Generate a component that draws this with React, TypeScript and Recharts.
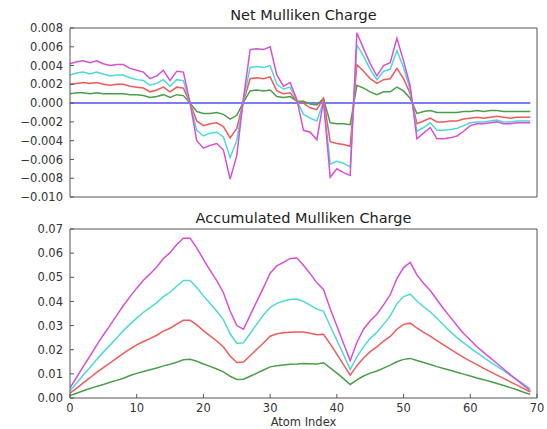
import { LineChart, Line, XAxis, YAxis, ReferenceLine } from 'recharts'

// atom index 0..69
const atoms: number[] = Array.from({ length: 70 }, (_, i) => i)

// net charge per atom, four series
const netM = [
  0.0042, 0.0044, 0.0045, 0.0043, 0.0045, 0.0042, 0.004, 0.0041, 0.0041, 0.0037,
  0.0035, 0.0033, 0.0026, 0.0029, 0.0035, 0.0024, 0.0034, 0.0033, 0.0, -0.004,
  -0.0048, -0.0045, -0.0043, -0.005, -0.0081, -0.0056, 0.0005, 0.0057, 0.0058, 0.0057,
  0.006, 0.003, 0.0018, 0.0022, 0.0004, -0.0029, -0.0031, -0.0039, 0.0002, -0.0079,
  -0.007, -0.0074, -0.0077, 0.0075, 0.0058, 0.0042, 0.0029, 0.004, 0.0043, 0.0069,
  0.0045, 0.0018, -0.0038, -0.0032, -0.0026, -0.0038, -0.0038, -0.0037, -0.0035, -0.003,
  -0.0024, -0.0022, -0.0022, -0.0021, -0.002, -0.0022, -0.0022, -0.0021, -0.0021, -0.0021,
]
const netC = [
  0.003, 0.0032, 0.0033, 0.0031, 0.0033, 0.0031, 0.0029, 0.003, 0.003, 0.0027,
  0.0025, 0.0024, 0.0019, 0.0021, 0.0025, 0.0018, 0.0025, 0.0024, 0.0, -0.0029,
  -0.0035, -0.0032, -0.0031, -0.0036, -0.0058, -0.004, 0.0003, 0.0038, 0.0039, 0.0038,
  0.004, 0.002, 0.0015, 0.0017, 0.0003, -0.0012, -0.0016, -0.0019, 0.0002, -0.0065,
  -0.0062, -0.0064, -0.0068, 0.0062, 0.005, 0.0036, 0.0025, 0.0034, 0.0036, 0.0056,
  0.0038, 0.0014, -0.003, -0.0026, -0.0021, -0.0029, -0.0029, -0.0028, -0.0027, -0.0024,
  -0.0021, -0.002, -0.002, -0.0019, -0.0018, -0.002, -0.002, -0.0019, -0.0019, -0.0019,
]
const netR = [
  0.002, 0.0021, 0.0022, 0.0021, 0.0022, 0.002, 0.0019, 0.002, 0.002, 0.0018,
  0.0017, 0.0016, 0.0012, 0.0014, 0.0017, 0.0012, 0.0017, 0.0016, 0.0, -0.0019,
  -0.0024, -0.0022, -0.0021, -0.0025, -0.0037, -0.0027, 0.0002, 0.0026, 0.0027, 0.0026,
  0.0028, 0.0013, 0.001, 0.0011, 0.0002, 0.0, -0.0005, -0.0007, 0.0005, -0.0041,
  -0.0043, -0.0044, -0.0046, 0.0041, 0.0034, 0.0026, 0.0021, 0.0025, 0.0026, 0.0037,
  0.0026, 0.001, -0.0022, -0.0019, -0.0016, -0.002, -0.002, -0.0019, -0.0019, -0.0017,
  -0.0016, -0.0015, -0.0016, -0.0015, -0.0014, -0.0015, -0.0016, -0.0015, -0.0015, -0.0015,
]
const netG = [
  0.001, 0.0011, 0.0011, 0.001, 0.0011, 0.001, 0.001, 0.001, 0.001, 0.0009,
  0.0009, 0.0008, 0.0006, 0.0007, 0.0009, 0.0006, 0.0009, 0.0008, 0.0, -0.0009,
  -0.0011, -0.0011, -0.001, -0.0012, -0.0017, -0.0013, 0.0001, 0.0013, 0.0014, 0.0013,
  0.0014, 0.0007, 0.0006, 0.0007, 0.0002, 0.0002, -0.0001, -0.0002, 0.0005, -0.0021,
  -0.0022, -0.0022, -0.0023, 0.0019, 0.0016, 0.0012, 0.0009, 0.0012, 0.0012, 0.0017,
  0.0013, 0.0005, -0.0011, -0.0009, -0.0008, -0.001, -0.001, -0.001, -0.001, -0.0009,
  -0.0009, -0.0008, -0.0009, -0.0008, -0.0008, -0.0009, -0.0009, -0.0009, -0.0009, -0.0009,
]

// accumulated charge per atom
const accM = [
  0.0042, 0.0086, 0.0131, 0.0174, 0.0219, 0.0261, 0.0301, 0.0342, 0.0383, 0.042,
  0.0455, 0.0488, 0.0514, 0.0543, 0.0578, 0.0602, 0.0636, 0.0662, 0.0662, 0.0622,
  0.0574, 0.0529, 0.0486, 0.0436, 0.036, 0.03, 0.0285, 0.0342, 0.04, 0.0457,
  0.0517, 0.0547, 0.0562, 0.0578, 0.058, 0.055, 0.0515, 0.0477, 0.045, 0.037,
  0.0298, 0.0226, 0.0155, 0.023, 0.0285, 0.032, 0.0347, 0.0386, 0.0428, 0.0495,
  0.054, 0.0562, 0.051, 0.0475, 0.0445, 0.0407, 0.037, 0.0335, 0.03, 0.0267,
  0.024, 0.0212, 0.0189, 0.0166, 0.0143, 0.012, 0.0097, 0.0074, 0.0052, 0.003,
]
const accC = [
  0.003, 0.0062, 0.0095, 0.0126, 0.0159, 0.019, 0.0219, 0.0249, 0.0279, 0.0306,
  0.0331, 0.0355, 0.0374, 0.0395, 0.042, 0.0438, 0.0463, 0.0487, 0.0487, 0.0458,
  0.0423, 0.0391, 0.036, 0.0324, 0.0266, 0.0226, 0.0229, 0.0267, 0.0306, 0.0344,
  0.0375, 0.0392, 0.0402, 0.0408, 0.041, 0.04, 0.0385, 0.0368, 0.036, 0.0298,
  0.024, 0.018, 0.0118, 0.017, 0.0212, 0.0247, 0.0272, 0.0305, 0.034, 0.039,
  0.042, 0.043, 0.0402, 0.0378, 0.0357, 0.033, 0.0302, 0.0275, 0.025, 0.0228,
  0.0208, 0.0188, 0.0168, 0.0149, 0.0131, 0.0113, 0.0094, 0.0076, 0.0057, 0.0038,
]
const accR = [
  0.002, 0.0041, 0.0063, 0.0084, 0.0106, 0.0126, 0.0145, 0.0165, 0.0185, 0.0203,
  0.022, 0.0234, 0.0246, 0.026, 0.0277, 0.0289, 0.0306, 0.0322, 0.0322, 0.0303,
  0.0279, 0.0257, 0.0236, 0.0211, 0.0174, 0.0147, 0.0149, 0.0175, 0.0202, 0.0228,
  0.0256, 0.0266, 0.027, 0.0272, 0.0273, 0.0273, 0.0268, 0.0262, 0.0264, 0.0224,
  0.0182, 0.0138, 0.0095, 0.0134, 0.0166, 0.0192, 0.0212, 0.0236, 0.0255, 0.0285,
  0.0305, 0.031, 0.029, 0.0272, 0.0256, 0.0238, 0.022, 0.0202, 0.0185, 0.0168,
  0.0153, 0.0138, 0.0123, 0.0109, 0.0095, 0.0081, 0.0067, 0.0053, 0.0039, 0.0025,
]
const accG = [
  0.001, 0.002, 0.003, 0.0039, 0.0048, 0.0056, 0.0065, 0.0073, 0.0082, 0.0093,
  0.0102, 0.011, 0.0117, 0.0124, 0.0133, 0.014, 0.0148, 0.0158, 0.016, 0.0152,
  0.0141, 0.0131, 0.012, 0.0108, 0.009, 0.0077, 0.0078, 0.009, 0.0103, 0.0116,
  0.0129, 0.0134, 0.0137, 0.014, 0.0141, 0.0143, 0.0142, 0.0141, 0.0146, 0.0125,
  0.0103, 0.008, 0.0056, 0.0075, 0.0091, 0.0103, 0.0112, 0.0124, 0.0136, 0.015,
  0.016, 0.0164, 0.0155, 0.0147, 0.0139, 0.013, 0.0122, 0.0115, 0.0107, 0.0099,
  0.0091, 0.0083, 0.0076, 0.0068, 0.006, 0.0052, 0.0043, 0.0034, 0.0024, 0.0015,
]

const xTicks = [0, 10, 20, 30, 40, 50, 60, 70]
const netTicks = [-0.01, -0.008, -0.006, -0.004, -0.002, 0, 0.002, 0.004, 0.006, 0.008]
const accTicks = [0, 0.01, 0.02, 0.03, 0.04, 0.05, 0.06, 0.07]

const netData = atoms.map((idx, i) => ({ idx, g: netG[i], r: netR[i], c: netC[i], m: netM[i] }))
const accData = atoms.map((idx, i) => ({ idx, g: accG[i], r: accR[i], c: accC[i], m: accM[i] }))

const GREEN = '#4a9e4a'
const RED = '#f05a5a'
const CYAN = '#4fd8d8'
const MAGENTA = '#d84fd8'
const BLUE = '#5050f0'
const FRAME = '#555'
const FONT = '"DejaVu Sans", sans-serif'
const tickStyle = { fontSize: 11.5, fill: '#333', fontFamily: FONT }

const fmtNet = (v: number) => {
  const s = Math.abs(v).toFixed(3)
  return v < -1e-9 ? '\u2212' + s : s
}
const fmtAcc = (v: number) => v.toFixed(2)

function Panel({ data, yTicks, yDomain, fmt, showX, height, zero }: any) {
  return (
    <LineChart width={547} height={height} data={data} margin={{ top: 27, right: 9, left: 8, bottom: 0 }}>
      <XAxis
        dataKey="idx"
        type="number"
        domain={[0, 70]}
        ticks={xTicks}
        allowDataOverflow
        height={showX ? 31 : 8}
        tickSize={-4}
        tickMargin={10}
        tick={showX ? tickStyle : false}
        stroke={FRAME}
        interval={0}
      />
      <XAxis
        xAxisId="top"
        dataKey="idx"
        orientation="top"
        type="number"
        domain={[0, 70]}
        ticks={xTicks}
        allowDataOverflow
        height={1}
        tickSize={-4}
        tick={false}
        stroke={FRAME}
        interval={0}
      />
      <YAxis
        type="number"
        domain={yDomain}
        ticks={yTicks}
        allowDataOverflow
        width={62}
        tickSize={-4}
        tickMargin={11}
        tick={tickStyle}
        tickFormatter={fmt}
        stroke={FRAME}
        interval={0}
      />
      <YAxis
        yAxisId="right"
        orientation="right"
        type="number"
        domain={yDomain}
        ticks={yTicks}
        allowDataOverflow
        width={1}
        tickSize={-4}
        tick={false}
        stroke={FRAME}
        interval={0}
      />
      {zero && (
        <ReferenceLine segment={[{ x: 0, y: 0 }, { x: 69, y: 0 }]} stroke={BLUE} strokeWidth={1.5} />
      )}
      <Line dataKey="g" stroke={GREEN} strokeWidth={1.5} dot={false} isAnimationActive={false} />
      <Line dataKey="r" stroke={RED} strokeWidth={1.5} dot={false} isAnimationActive={false} />
      <Line dataKey="c" stroke={CYAN} strokeWidth={1.5} dot={false} isAnimationActive={false} />
      <Line dataKey="m" stroke={MAGENTA} strokeWidth={1.5} dot={false} isAnimationActive={false} />
      {/* invisible copy so the top and right frame axes get drawn */}
      <Line
        xAxisId="top"
        yAxisId="right"
        dataKey="m"
        stroke="none"
        strokeWidth={0}
        dot={false}
        activeDot={false}
        legendType="none"
        isAnimationActive={false}
      />
    </LineChart>
  )
}

const titleStyle: any = {
  position: 'absolute',
  left: 70,
  width: 467,
  textAlign: 'center',
  fontFamily: FONT,
  fontSize: 14.5,
  color: '#222',
  lineHeight: '16px',
}

export default function App() {
  return (
    <div style={{ position: 'fixed', left: 0, top: 0, width: 547, height: 429, background: '#fff' }}>
      <div style={{ ...titleStyle, top: 7 }}>Net Mulliken Charge</div>
      <div style={{ position: 'absolute', left: 0, top: 0 }}>
        <Panel data={netData} yTicks={netTicks} yDomain={[-0.01, 0.008]} fmt={fmtNet} showX={false} height={205} zero />
      </div>
      <div style={{ ...titleStyle, top: 210 }}>Accumulated Mulliken Charge</div>
      <div style={{ position: 'absolute', left: 0, top: 201 }}>
        <Panel data={accData} yTicks={accTicks} yDomain={[0, 0.07]} fmt={fmtAcc} showX height={228} />
      </div>
      <div
        style={{
          position: 'absolute',
          left: 70,
          width: 467,
          top: 415,
          textAlign: 'center',
          fontFamily: FONT,
          fontSize: 11.5,
          color: '#333',
        }}
      >
        Atom Index
      </div>
    </div>
  )
}
